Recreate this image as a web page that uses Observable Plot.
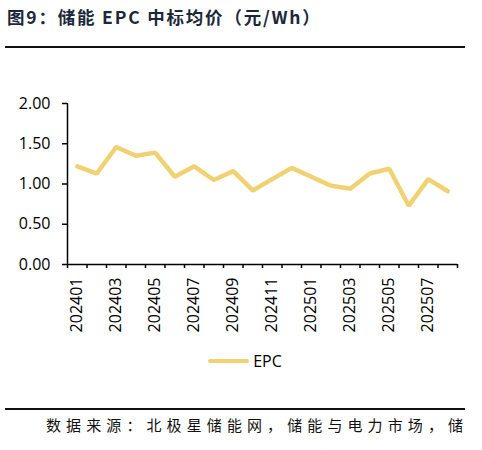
<!DOCTYPE html>
<html>
<head>
<meta charset="utf-8">
<script src="https://cdn.jsdelivr.net/npm/d3@7"></script>
<script src="https://cdn.jsdelivr.net/npm/@observablehq/plot@0.6"></script>
<style>
  body { margin: 0; background: white; font-family: "Noto Sans CJK SC", sans-serif; }
  #wrap { position: relative; width: 482px; height: 450px; }
  #title { position: absolute; left: 7px; top: 4px; font-size: 17.5px; font-weight: bold; color: #1c2838; white-space: nowrap; letter-spacing: 1.8px; }
  .rule { position: absolute; left: 5px; width: 460px; height: 2px; background: #111; }
  #chart { position: absolute; left: 0; top: 50px; }
  #legend { position: absolute; left: 0; top: 350px; width: 482px; display: flex; justify-content: center; align-items: center; font-family: "Open Sans", sans-serif; font-size: 16px; padding-left: 8px; box-sizing: border-box; }
  #legend span.swatch { display: inline-block; width: 41px; height: 4px; background: #f0d272; margin-right: 4px; border-radius: 2px; }
  #source { position: absolute; left: 46px; top: 414px; font-size: 15px; letter-spacing: 5.1px; color: #111; white-space: nowrap; }
</style>
</head>
<body>
<div id="wrap">
  <div id="title">图9：储能 EPC 中标均价（元/Wh）</div>
  <div class="rule" style="top:46px"></div>
  <div id="chart"></div>
  <div id="legend"><span class="swatch"></span><span>EPC</span></div>
  <div class="rule" style="top:408px"></div>
  <div id="source">数据来源：北极星储能网，储能与电力市场，储</div>
</div>
<script>
const months = ["202401","202402","202403","202404","202405","202406","202407","202408","202409","202410",
                "202411","202412","202501","202502","202503","202504","202505","202506","202507","202508"];
const epc = [1.22, 1.13, 1.46, 1.35, 1.39, 1.09, 1.22, 1.05, 1.16, 0.92,
             1.06, 1.20, 1.09, 0.98, 0.94, 1.13, 1.19, 0.73, 1.06, 0.91];
const yTicks = [0, 0.5, 1, 1.5, 2];

const data = months.map((m, i) => ({i, m, v: epc[i]}));
const labelTicks = months.map((m, i) => i).filter(i => i % 2 === 0).map(i => i + 0.5);

const chart = Plot.plot({
  width: 482,
  height: 289,
  marginTop: 53,
  marginBottom: 75,
  marginLeft: 67,
  marginRight: 25,
  style: {fontFamily: "'Open Sans', 'Noto Sans', sans-serif", fontSize: "16px", color: "#000", background: "white", overflow: "visible"},
  x: {domain: [0, months.length], axis: null},
  y: {domain: [0, 2], axis: null},
  marks: [
    Plot.axisY({ticks: yTicks, tickFormat: d => d.toFixed(2), tickSize: 5, tickPadding: 12, strokeWidth: 1.5, label: null}),
    Plot.axisX({ticks: d3.range(months.length + 1), tickFormat: () => "", tickSize: 4, strokeWidth: 1.5, label: null}),
    Plot.axisX({ticks: labelTicks, tickFormat: d => months[d - 0.5], tickSize: 0, tickPadding: 13, tickRotate: -90, label: null}),
    Plot.ruleX([0], {strokeWidth: 1.5}),
    Plot.ruleY([0], {strokeWidth: 1.5}),
    Plot.line(data, {x: d => d.i + 0.5, y: "v", stroke: "#f0d272", strokeWidth: 4.5, strokeLinejoin: "miter"})
  ]
});

d3.select("#chart").append(() => chart);
</script>
</body>
</html>
